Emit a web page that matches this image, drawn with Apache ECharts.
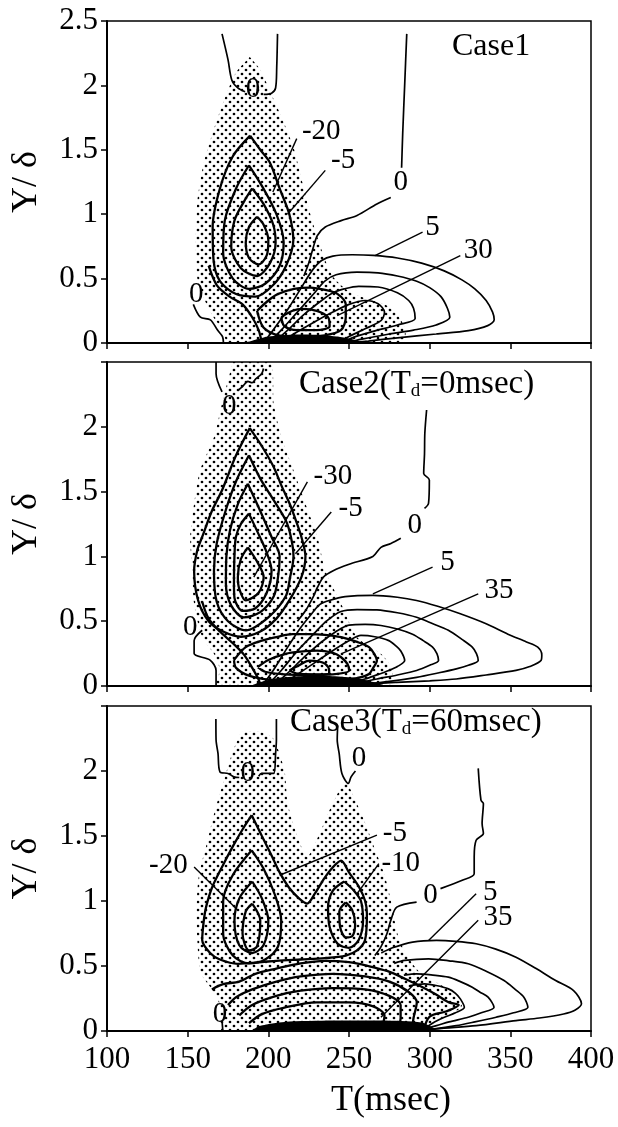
<!DOCTYPE html>
<html>
<head>
<meta charset="utf-8">
<title>Case contours</title>
<script src="https://cdn.jsdelivr.net/npm/echarts@6/dist/echarts.min.js"></script>
<style>
body{margin:0;background:#fff;}
#main{width:618px;height:1127px;}
</style>
</head>
<body>
<div id="main"></div>
<script>
// ---------- Case1 ----------
var c1Zero = [
  [[171.3,2.40],[175,2.2],[177.4,2.04],[181.1,1.98],[185.6,1.95]],
  [[205.7,2.40],[205.2,2.14],[204.5,1.98],[202,1.94],[197.1,1.93]],
  [[285.8,2.40],[284.5,2.0],[283.3,1.63],[282.6,1.36]],
  [[275.9,1.13],[267.3,1.08],[255,0.99],[245.1,0.95],[235.3,0.90],[230.4,0.835],[227.9,0.744],[225,0.62],[222,0.52]],
  [[153.5,0.3],[157.9,0.2],[164.1,0.18],[168.5,0.1],[171.6,0.05],[172.2,0]]
];
var c1Neg = [
  [[188.7,1.61],[195,1.5],[201,1.4],[207,1.2],[213,1.0],[215.5,0.8],[211,0.6],[203,0.45],[192,0.36],[180,0.38],[170,0.48],[166,0.65],[165.5,0.9],[170,1.2],[178,1.45],[188.7,1.61]],
  [[188,1.38],[196,1.22],[205,1.0],[209.5,0.78],[207,0.6],[198,0.46],[188,0.42],[178,0.5],[172,0.7],[173,0.95],[180,1.2],[188,1.38]],
  [[190,1.2],[197,1.08],[203,0.92],[204.5,0.78],[201,0.62],[193,0.52],[183,0.58],[177,0.75],[179,0.95],[185,1.1],[190,1.2]],
  [[193,0.98],[197,0.92],[200,0.8],[199,0.68],[194,0.61],[188,0.66],[186,0.78],[188,0.9],[193,0.98]],
  [[193,0.25],[200,0.33],[206,0.38],[216,0.42],[226,0.43],[236,0.41],[243,0.38],[248,0.3],[248,0.2],[245,0.1],[235,0.06],[220,0.05],[206,0.06],[197,0.12],[193,0.25]],
  [[208,0.2],[215,0.25],[221,0.265],[230,0.25],[237,0.2],[238,0.13],[230,0.1],[218,0.1],[210,0.13],[208,0.2]],
  [[163,0.6],[168,0.45],[176,0.36],[184,0.3],[190,0.2],[194,0.1],[196,0]]
];
var c1Pos = [
  [[197,0],[203,0.1],[212,0.26],[220,0.42],[227,0.56],[233,0.64],[240,0.675],[252,0.685],[265,0.68],[280,0.66],[295,0.62],[309,0.56],[320,0.49],[328,0.42],[335,0.33],[339,0.24],[340,0.18],[336,0.135],[324,0.096],[304,0.07],[280,0.04],[262,0.015],[250,0]],
  [[200,0],[208,0.1],[218,0.24],[228,0.38],[235,0.48],[242,0.53],[255,0.55],[268,0.545],[280,0.52],[292,0.48],[300,0.43],[307,0.36],[311,0.27],[312.5,0.2],[304,0.14],[290,0.1],[275,0.07],[258,0.03],[248,0]],
  [[203,0],[212,0.1],[222,0.22],[232,0.32],[240,0.39],[247,0.42],[256,0.44],[268,0.435],[280,0.39],[287,0.33],[290,0.27],[291,0.19],[280,0.14],[265,0.09],[252,0.04],[246,0]],
  [[207,0],[217,0.08],[228,0.16],[240,0.24],[250,0.3],[260,0.33],[268,0.305],[272,0.24],[270,0.175],[260,0.11],[250,0.05],[244,0]]
];
var c1Wall = [[186,0],[192,0.025],[200,0.05],[215,0.065],[235,0.06],[250,0.035],[258,0]];
var c1Dots = [[188.5,2.22],[195,2.12],[203,1.9],[210,1.7],[216,1.5],[221,1.25],[226,1.0],[231,0.8],[236,0.62],[241,0.5],[250,0.4],[262,0.34],[272,0.3],[280,0.22],[285,0.1],[283,0],[175,0],[172,0.1],[166,0.2],[160,0.35],[156,0.5],[155,0.8],[156,1.1],[160,1.4],[166,1.65],[173,1.9],[180,2.1],[188.5,2.22]];
var c1Leaders = [
  [[217.6,1.587],[202.8,1.172]],
  [[235.3,1.34],[211.9,1.0]],
  [[295.6,0.861],[266.1,0.679]],
  [[319,0.679],[242.7,0.213]]
];
var c1Labels = [[232.8,1.64,'-20'],[246.4,1.42,'-5'],[282.1,1.25,'0'],[301.8,0.9,'5'],[330.1,0.718,'30'],[155.3,0.38,'0'],[190.5,1.97,'0']];

// ---------- Case2 ----------
var c2Zero = [
  [[167.6,2.5],[167.6,2.41],[171.3,2.27]],
  [[181.1,2.28],[184,2.31],[187.3,2.35],[190,2.34],[192.2,2.37],[195.9,2.41],[197,2.45]],
  [[298.1,2.13],[297,1.95],[296.8,1.79],[296.3,1.64],[299.8,1.59],[299.3,1.41],[296.8,1.37]],
  [[282.1,1.14],[276,1.1],[269.8,1.07],[264.8,1.0],[250.1,0.94],[240.2,0.89],[234.1,0.84],[230.4,0.76],[227.9,0.69],[223,0.58],[218,0.5]],
  [[159,0.43],[154,0.35],[154,0.25],[163.9,0.2],[167.6,0.12],[167.6,0]]
];
var c2Neg = [
  [[188.5,1.99],[196,1.85],[203.3,1.69],[208,1.55],[213.1,1.41],[217,1.28],[220.5,1.15],[223,1.0],[220.5,0.84],[213,0.66],[205,0.52],[195,0.42],[183,0.38],[172,0.42],[163,0.5],[156.5,0.66],[154,0.89],[156,1.05],[159,1.15],[165,1.35],[171.3,1.51],[180,1.78],[188.5,1.99]],
  [[188,1.78],[195,1.6],[203,1.44],[210.7,1.28],[214,1.15],[215.6,1.0],[213.5,0.84],[210.7,0.69],[200,0.53],[186,0.43],[175,0.5],[168,0.65],[166.3,0.89],[168,1.1],[173.7,1.36],[180,1.58],[188,1.78]],
  [[187.3,1.56],[195,1.35],[202,1.15],[207,1.0],[206,0.84],[203.3,0.69],[195,0.57],[184.8,0.53],[177,0.62],[173.7,0.79],[174,1.0],[176.2,1.2],[181,1.4],[187.3,1.56]],
  [[188,1.33],[194,1.17],[199,1.03],[202,0.89],[199,0.72],[192,0.6],[184,0.58],[179,0.68],[178.7,0.79],[179,1.0],[179.9,1.15],[183,1.25],[188,1.33]],
  [[187.3,1.07],[193,0.96],[197.1,0.84],[194,0.72],[186,0.66],[182,0.75],[181.1,0.84],[183,0.98],[187.3,1.07]],
  [[178.7,0.2],[186,0.3],[196,0.35],[205.7,0.38],[215,0.4],[225.4,0.4],[235,0.395],[245.1,0.377],[255,0.34],[262.4,0.3],[266,0.24],[267.3,0.196],[265,0.14],[262.4,0.093],[255,0.06],[240,0.04],[220,0.04],[200,0.05],[188,0.08],[180,0.14],[178.7,0.2]],
  [[193.4,0.145],[200,0.2],[210.7,0.248],[220,0.265],[230.4,0.273],[240,0.255],[245.1,0.222],[249,0.17],[250.1,0.119],[240,0.09],[225,0.085],[210,0.09],[198,0.11],[193.4,0.145]],
  [[213.1,0.119],[219,0.16],[225.4,0.196],[231,0.19],[235.3,0.17],[237.7,0.12],[237.7,0.093],[228,0.09],[218,0.095],[213.1,0.119]],
  [[159,0.65],[163,0.52],[170,0.42],[178,0.33],[185,0.24],[190,0.14],[194,0.05],[195,0]]
];
var c2Pos = [
  [[196,0],[203,0.12],[212,0.3],[220,0.45],[227,0.56],[232,0.63],[237.7,0.66],[247.6,0.69],[264.8,0.7],[280,0.685],[291.9,0.66],[305,0.615],[319,0.557],[335,0.48],[348.5,0.40],[360,0.34],[367,0.3],[369.5,0.24],[369,0.196],[362,0.15],[353.5,0.12],[335,0.085],[316.5,0.054],[300,0.04],[279.6,0.028],[262,0.015],[250,0]],
  [[199,0],[208,0.12],[218,0.27],[228,0.4],[236,0.5],[245,0.575],[255,0.59],[267.3,0.588],[280,0.565],[291.9,0.53],[302,0.48],[311.6,0.43],[320,0.36],[326.4,0.3],[329,0.25],[330.1,0.196],[324,0.16],[316.5,0.132],[305,0.1],[291.9,0.067],[275,0.035],[258,0.01],[250,0]],
  [[203,0],[212,0.1],[222,0.22],[232,0.33],[242,0.42],[250,0.47],[260,0.475],[269.8,0.467],[280,0.44],[289.4,0.4],[296,0.35],[301.8,0.3],[304.5,0.25],[305.5,0.196],[300,0.16],[291.9,0.12],[280,0.085],[267.3,0.054],[255,0.02],[248,0]],
  [[207,0],[218,0.09],[230,0.19],[242,0.29],[250,0.35],[257.4,0.39],[266,0.38],[274.7,0.35],[279,0.31],[282.1,0.27],[284.5,0.196],[280,0.15],[274.7,0.12],[266,0.08],[259.9,0.054],[250,0.02],[246,0]]
];
var c2Wall = [[190,0],[195,0.03],[205,0.06],[220,0.075],[240,0.075],[255,0.06],[265,0.03],[272,0]];
var c2Dots = [[178,2.5],[201,2.5],[203.3,2.18],[208.2,1.92],[215.6,1.665],[223,1.407],[230.4,1.15],[235.3,0.892],[245.1,0.634],[255,0.377],[269.8,0.248],[277.1,0.119],[274.7,0],[167.6,0],[170,0.119],[166.3,0.248],[159,0.377],[154,0.634],[152.8,0.892],[151.6,1.15],[154,1.407],[157.7,1.665],[166.3,1.92],[171.3,2.18],[178,2.5]];
var c2Leaders = [
  [[224.2,1.575],[191,0.84]],
  [[239,1.343],[216.8,1.021]],
  [[301.8,0.918],[264.8,0.711]],
  [[330.1,0.711],[245.1,0.248]]
];
var c2Labels = [[240,1.62,'-30'],[251,1.37,'-5'],[290.7,1.24,'0'],[311,0.956,'5'],[343,0.737,'35'],[151.6,0.454,'0'],[175.7,2.155,'0']];

// ---------- Case3 ----------
var c3Zero = [
  [[167.5,2.4],[167.6,2.24],[168.8,2.135],[170,1.994],[175,1.981],[178.7,1.955],[182,1.95]],
  [[194,1.96],[195.9,1.981],[203.3,1.981],[204.5,2.135],[205,2.24],[205,2.4]],
  [[243,2.35],[242.7,2.24],[243.9,2.135],[245.6,1.981],[249.6,1.904],[251.3,1.955],[254,2.0]],
  [[330.1,2.02],[331.8,1.776],[333.3,1.75],[332.5,1.596],[333.3,1.519],[328.8,1.467],[327.6,1.339],[327.6,1.21],[320.2,1.159],[306.7,1.095]],
  [[291.9,0.992],[279.6,0.953],[275.9,0.851],[273.5,0.748],[269.7,0.645],[266,0.58]],
  [[171.3,0.08],[171.8,0]]
];
var c3Neg = [
  [[189.7,1.66],[196,1.5],[202,1.35],[207,1.22],[213,1.1],[219,1.02],[224,0.98],[229,1.06],[235,1.18],[240,1.26],[245.1,1.31],[250,1.22],[256.2,1.108],[260,1.0],[261.1,0.902],[259.9,0.697],[255,0.62],[248,0.58],[235,0.56],[220,0.55],[205,0.54],[195.9,0.53],[181.1,0.517],[170,0.55],[163.9,0.6],[159,0.7],[160,0.85],[161.4,0.953],[165,1.1],[171.3,1.262],[178,1.42],[184,1.55],[189.7,1.66]],
  [[189.7,1.39],[197,1.25],[204,1.05],[208,0.85],[206,0.65],[198,0.55],[188,0.52],[178,0.58],[172,0.75],[172,1.0],[178,1.2],[189.7,1.39]],
  [[190,1.15],[196,1.02],[200,0.85],[197,0.66],[190,0.6],[182,0.66],[179,0.85],[182,1.02],[190,1.15]],
  [[190,0.98],[195,0.85],[193,0.65],[188,0.62],[184,0.75],[186,0.92],[190,0.98]],
  [[247,1.15],[253,1.08],[257.4,1.0],[258.7,0.85],[256,0.7],[250,0.64],[243,0.67],[238,0.8],[237,0.95],[240,1.08],[247,1.15]],
  [[248,0.99],[252,0.93],[253.8,0.82],[252,0.73],[248,0.72],[244.5,0.8],[244,0.92],[248,0.99]],
  [[165,0.32],[172,0.36],[182,0.38],[192,0.44],[205,0.48],[220,0.52],[235,0.54],[250,0.53],[262,0.5],[274,0.46],[285,0.4],[295,0.34],[304,0.28],[312,0.22],[318,0.2],[310,0.15],[300,0.11],[296,0]],
  [[175,0.2],[180,0.26],[190,0.32],[205,0.38],[220,0.42],[240,0.44],[260,0.42],[275,0.38],[287,0.3],[292,0.22],[290,0.1],[289,0]],
  [[182,0.12],[190,0.2],[205,0.27],[220,0.31],[240,0.33],[260,0.32],[275,0.27],[282,0.2],[282,0.1],[280,0]],
  [[188,0.06],[196,0.13],[210,0.18],[230,0.22],[250,0.22],[265,0.19],[272,0.12],[270,0]]
];
var c3Pos = [
  [[270,0.6],[277,0.64],[289.4,0.684],[304.2,0.697],[316,0.69],[328.8,0.671],[341,0.63],[353.5,0.568],[366,0.48],[378.1,0.388],[389.2,0.311],[394.1,0.209],[390,0.16],[383,0.131],[368,0.1],[353.5,0.08],[328.8,0.041],[304.2,0.016],[295,0]],
  [[278,0.52],[284.5,0.543],[299.3,0.555],[312,0.54],[323.9,0.517],[335,0.46],[346.1,0.388],[353,0.32],[358.4,0.26],[360.9,0.183],[352,0.14],[341.2,0.106],[328,0.07],[316.5,0.041],[300,0.01],[293,0]],
  [[284,0.43],[291.9,0.44],[302,0.43],[311.6,0.414],[319,0.38],[326.4,0.337],[331,0.3],[336.2,0.26],[339.9,0.183],[332,0.14],[323.9,0.106],[312,0.07],[304.2,0.041],[295,0.01],[291,0]],
  [[288,0.35],[296.8,0.363],[304,0.35],[311.6,0.324],[316,0.29],[319,0.247],[321.5,0.183],[316,0.14],[309.1,0.106],[303,0.07],[299.3,0.041],[292,0]]
];
var c3Wall = [[190,0],[195,0.04],[210,0.07],[240,0.08],[270,0.08],[295,0.065],[302,0.025],[304,0]];
var c3Dots = [[183,2.3],[195,2.3],[203,2.25],[210,2.0],[212,1.75],[218,1.5],[224,1.34],[230,1.47],[238,1.7],[244,1.85],[248,1.92],[253,1.8],[260,1.6],[266,1.4],[272,1.2],[276,1.0],[280,0.75],[285,0.6],[294,0.45],[310,0.33],[320,0.2],[312,0.12],[302,0.08],[301,0],[172,0],[170,0.2],[165,0.32],[158,0.45],[156,0.7],[155.5,0.95],[157,1.2],[162,1.45],[167,1.7],[173,1.95],[178,2.15],[183,2.3]];
var c3Leaders = [
  [[267.3,1.506],[207,1.198]],
  [[268.5,1.288],[255,1.056]],
  [[154,1.262],[181.1,0.928]],
  [[328.8,1.056],[299.3,0.697]],
  [[330.1,0.851],[269.8,0.106]]
];
var c3Labels = [[187.3,1.981,'0'],[256.2,2.097,'0'],[300.5,1.043,'0'],[278.4,1.519,'-5'],[282.1,1.288,'-10'],[138,1.275,'-20'],[170,0.131,'0'],[337.5,1.069,'5'],[342.4,0.876,'35']];

var panels = [
  {zero:c1Zero, neg:c1Neg, pos:c1Pos, wall:c1Wall, dots:c1Dots, leaders:c1Leaders, labels:c1Labels},
  {zero:c2Zero, neg:c2Neg, pos:c2Pos, wall:c2Wall, dots:c2Dots, leaders:c2Leaders, labels:c2Labels},
  {zero:c3Zero, neg:c3Neg, pos:c3Pos, wall:c3Wall, dots:c3Dots, leaders:c3Leaders, labels:c3Labels}
];

var serif = '"Liberation Serif", "DejaVu Serif", serif';

// stipple pattern
var dot = document.createElement('canvas');
dot.width = 8; dot.height = 8;
var g = dot.getContext('2d');
g.fillStyle = '#000';
g.beginPath(); g.arc(2, 2, 1.35, 0, Math.PI * 2); g.fill();
g.beginPath(); g.arc(6, 6, 1.35, 0, Math.PI * 2); g.fill();

function lineSeries(pts, i, w, smooth) {
  return {
    type: 'line', xAxisIndex: i, yAxisIndex: i, data: pts,
    symbol: 'none', smooth: smooth, silent: true, animation: false, z: 3,
    lineStyle: {color: '#000', width: w}
  };
}
function fillSeries(poly, i, fill, z) {
  return {
    type: 'custom', xAxisIndex: i, yAxisIndex: i, data: [poly[0]], clip: true,
    silent: true, animation: false, z: z,
    renderItem: function (params, api) {
      var pts = poly.map(function (p) { return api.coord(p); });
      return {type: 'polygon', shape: {points: pts, smooth: 0.25}, style: {fill: fill}};
    }
  };
}

var grids = [], xAxes = [], yAxes = [], series = [];
var tops = [21, 362, 706], heights = [322, 324, 325];
for (var i = 0; i < 3; i++) {
  grids.push({left: 107, top: tops[i], width: 484, height: heights[i], show: true,
    borderColor: '#000', borderWidth: 1.5, backgroundColor: 'transparent'});
  xAxes.push({
    type: 'value', gridIndex: i, min: 100, max: 400, interval: 50,
    axisLine: {lineStyle: {color: '#000', width: 2}},
    axisTick: {show: true, inside: false, length: 6, lineStyle: {color: '#000', width: 1.5}},
    axisLabel: {show: i === 2, fontSize: 31, fontFamily: serif, color: '#000', margin: 13},
    splitLine: {show: false},
    name: i === 2 ? 'T(msec)' : '', nameLocation: 'middle', nameGap: 52,
    nameTextStyle: {fontSize: 36, fontFamily: serif, color: '#000', padding: [0, 0, 0, 84]}
  });
  yAxes.push({
    type: 'value', gridIndex: i, min: 0, max: 2.5, interval: 0.5,
    axisLine: {lineStyle: {color: '#000', width: 2}},
    axisTick: {show: true, inside: false, length: 6, lineStyle: {color: '#000', width: 1.5}},
    axisLabel: {fontSize: 31, fontFamily: serif, color: '#000', margin: 9,
      formatter: (function (k) { return function (v) { return (k > 0 && v === 2.5) ? '' : String(v); }; })(i)},
    splitLine: {show: false},
    name: 'Y/ δ', nameLocation: 'middle', nameGap: 62, nameRotate: 90,
    nameTextStyle: {fontSize: 36, fontFamily: serif, color: '#000'}
  });

  var p = panels[i];
  series.push(fillSeries(p.dots, i, {image: dot, repeat: 'repeat'}, 1));
  series.push(fillSeries(p.wall, i, '#000', 4));
  p.zero.forEach(function (c) { series.push(lineSeries(c, i, 1.7, 0.3)); });
  p.neg.forEach(function (c) { series.push(lineSeries(c, i, 2.3, 0.3)); });
  p.pos.forEach(function (c) { series.push(lineSeries(c, i, 1.7, 0.3)); });
  p.leaders.forEach(function (c) { series.push(lineSeries(c, i, 1.4, false)); });
  series.push({
    type: 'scatter', xAxisIndex: i, yAxisIndex: i, silent: true, animation: false, z: 6,
    symbol: 'circle', symbolSize: 0, itemStyle: {color: '#000'},
    data: p.labels.map(function (l) { return {value: [l[0], l[1]], name: l[2]}; }),
    label: {show: true, position: 'inside', formatter: '{b}', fontSize: 29, fontFamily: serif,
      color: '#000', opacity: 1, textBorderWidth: 0}
  });
}

var chart = echarts.init(document.getElementById('main'));
chart.setOption({
  backgroundColor: '#fff',
  animation: false,
  grid: grids,
  xAxis: xAxes,
  yAxis: yAxes,
  series: series,
  graphic: [
    {type: 'text', left: 452, top: 31, style: {text: 'Case1', fontSize: 32, fontFamily: serif, fill: '#000'}},
    {type: 'text', left: 299, top: 368, style: {text: 'Case2(T{s|d}=0msec)', fontSize: 33, fontFamily: serif, fill: '#000',
      rich: {s: {fontSize: 19, fontFamily: serif, verticalAlign: 'bottom'}}}},
    {type: 'text', left: 290, top: 706, style: {text: 'Case3(T{s|d}=60msec)', fontSize: 33, fontFamily: serif, fill: '#000',
      rich: {s: {fontSize: 19, fontFamily: serif, verticalAlign: 'bottom'}}}}
  ]
});
</script>
</body>
</html>
